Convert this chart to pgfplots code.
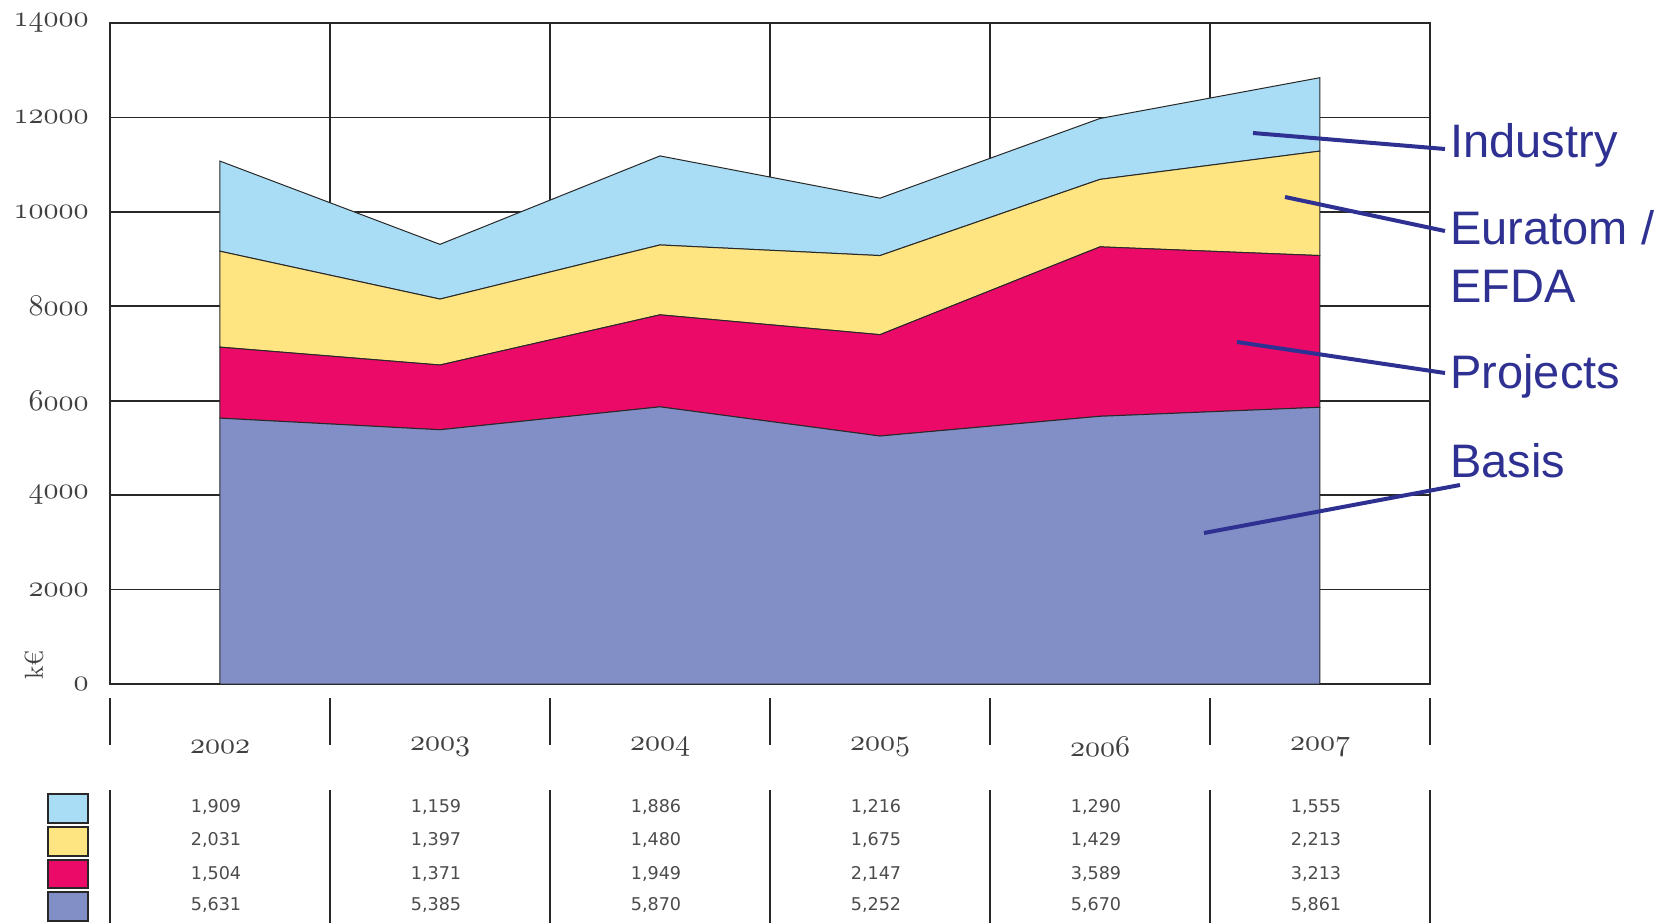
\documentclass[border=0pt]{standalone}
\usepackage{pgfplots}
\pgfplotsset{compat=1.18}
\usepackage{pgfplotstable}
\usepackage{fontspec}
\newfontfamily\arialf{Liberation Sans}
\newfontfamily\verdf{DejaVu Sans}
\font\osf=cmmi10 at 15pt
\newcommand\osn[1]{{\osf #1}}
\definecolor{cInd}{RGB}{168,221,245}
\definecolor{cEur}{RGB}{255,228,130}
\definecolor{cPro}{RGB}{236,10,104}
\definecolor{cBas}{RGB}{130,143,198}
\definecolor{annot}{RGB}{46,49,146}
\definecolor{gridc}{RGB}{40,40,40}

\pgfplotstableread{
x   basis projects euratom industry
0.5 5631  1504     2031    1909
1.5 5385  1371     1397    1159
2.5 5870  1949     1480    1886
3.5 5252  2147     1675    1216
4.5 5670  3589     1429    1290
5.5 5861  3213     2213    1555
}\data

\begin{document}
\begin{tikzpicture}
\begin{axis}[
  at={(0,0)}, anchor=south west,
  scale only axis, width=660pt, height=330.5pt,
  xmin=0, xmax=6, ymin=0, ymax=14000,
  xtick={0,1,2,3,4,5,6}, xticklabels={},
  ytick={0,2000,4000,6000,8000,10000,12000,14000},
  yticklabels={\osn{0},\osn{2000},\osn{4000},\osn{6000},\osn{8000},\osn{10000},\osn{12000},\osn{14000}},
  grid=major, grid style={gridc, line width=0.8pt},
  axis line style={gridc, line width=0.8pt},
  major tick length=0pt,
  yticklabel style={inner sep=0pt, xshift=-10.5pt, text=black!75},
  scaled y ticks=false,
  stack plots=y,
]
\addplot[fill=cBas, draw=gridc, line width=0.5pt] table[x=x, y=basis]{\data} \closedcycle;
\addplot[fill=cPro, draw=gridc, line width=0.5pt] table[x=x, y=projects]{\data} \closedcycle;
\addplot[fill=cEur, draw=gridc, line width=0.5pt] table[x=x, y=euratom]{\data} \closedcycle;
\addplot[fill=cInd, draw=gridc, line width=0.5pt] table[x=x, y=industry]{\data} \closedcycle;
\end{axis}

\begin{scope}[shift={(-55pt,342pt)}, x=0.5pt, y=-0.5pt]
\useasboundingbox (0,0) rectangle (1661,923);
\foreach \k in {0,...,6} {
  \draw[gridc, line width=0.8pt] ({110+220*\k},698) -- ({110+220*\k},745);
  \draw[gridc, line width=0.8pt] ({110+220*\k},790) -- ({110+220*\k},923);
}
\foreach \yr [count=\i from 0] in {2002,2003,2004,2005,2006,2007}
  \node[text=black!75, inner sep=0pt] at ({220+220*\i},747) {\osn{\yr}};
\node[rotate=90, font=\fontsize{13}{15}\selectfont, text=black!75, inner sep=0pt] at (34,665) {k€};
% table
\foreach \v [count=\i from 0] in {{1,909},{1,159},{1,886},{1,216},{1,290},{1,555}}
  \node[font=\verdf\fontsize{8.8}{10}\selectfont, text=black!70] at ({216+220*\i},807) {\v};
\foreach \v [count=\i from 0] in {{2,031},{1,397},{1,480},{1,675},{1,429},{2,213}}
  \node[font=\verdf\fontsize{8.8}{10}\selectfont, text=black!70] at ({216+220*\i},840) {\v};
\foreach \v [count=\i from 0] in {{1,504},{1,371},{1,949},{2,147},{3,589},{3,213}}
  \node[font=\verdf\fontsize{8.8}{10}\selectfont, text=black!70] at ({216+220*\i},874) {\v};
\foreach \v [count=\i from 0] in {{5,631},{5,385},{5,870},{5,252},{5,670},{5,861}}
  \node[font=\verdf\fontsize{8.8}{10}\selectfont, text=black!70] at ({216+220*\i},905) {\v};
% swatches
\filldraw[fill=cInd, draw=gridc, line width=0.8pt] (48,794) rectangle (88,823);
\filldraw[fill=cEur, draw=gridc, line width=0.8pt] (48,827) rectangle (88,856);
\filldraw[fill=cPro, draw=gridc, line width=0.8pt] (48,860) rectangle (88,888);
\filldraw[fill=cBas, draw=gridc, line width=0.8pt] (48,892) rectangle (88,921);
% annotations
\draw[annot, line width=2pt] (1253,133) -- (1445,149);
\draw[annot, line width=2pt] (1285,197) -- (1445,231);
\draw[annot, line width=2pt] (1237,342) -- (1445,373);
\draw[annot, line width=2pt] (1204,533) -- (1460,485);
\node[anchor=base west, text=annot, font=\arialf\fontsize{23.5}{27}\selectfont, inner sep=0pt] at (1450,158) {Industry};
\node[anchor=base west, text=annot, font=\arialf\fontsize{23.5}{27}\selectfont, inner sep=0pt] at (1450,244) {Euratom /};
\node[anchor=base west, text=annot, font=\arialf\fontsize{23.5}{27}\selectfont, inner sep=0pt] at (1450,302) {EFDA};
\node[anchor=base west, text=annot, font=\arialf\fontsize{23.5}{27}\selectfont, inner sep=0pt] at (1450,388) {Projects};
\node[anchor=base west, text=annot, font=\arialf\fontsize{23.5}{27}\selectfont, inner sep=0pt] at (1450,477) {Basis};
\end{scope}
\end{tikzpicture}
\end{document}
